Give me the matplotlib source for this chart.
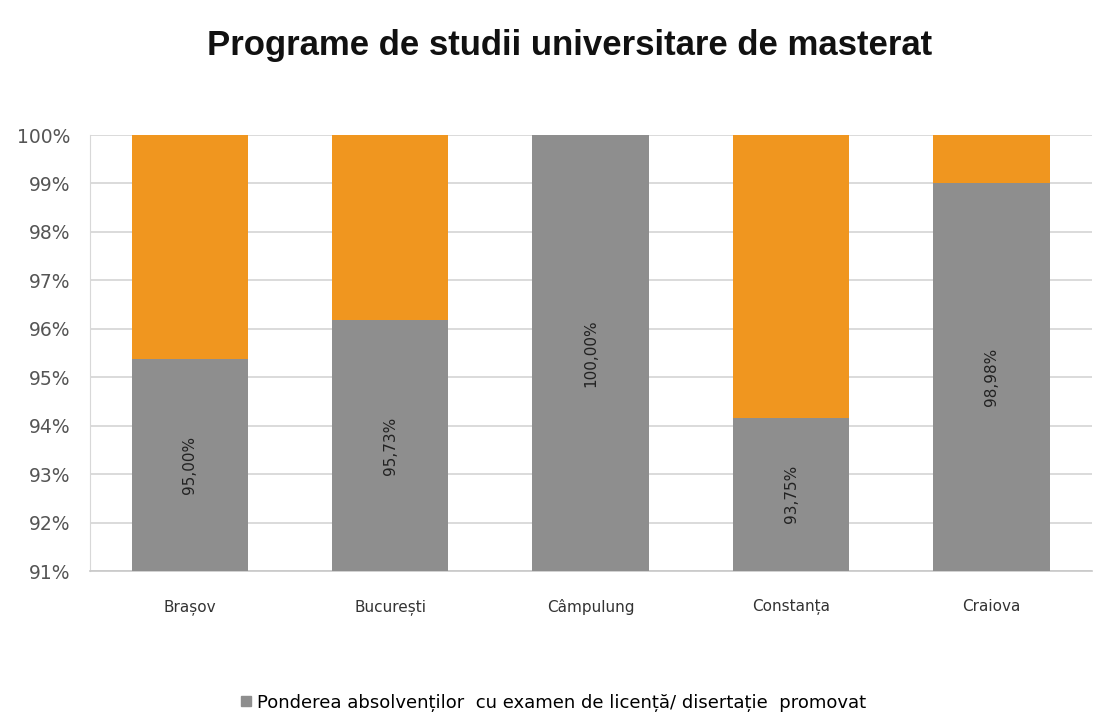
import matplotlib
matplotlib.use("Agg")
import matplotlib.pyplot as plt
from matplotlib.lines import Line2D

categories = ["Brașov", "București", "Câmpulung", "Constanța", "Craiova"]
gray_values = [95.37, 96.18, 100.0, 94.17, 99.01]
value_labels = ["95,00%", "95,73%", "100,00%", "93,75%", "98,98%"]
total = 100.0
yticks = [91, 92, 93, 94, 95, 96, 97, 98, 99, 100]
ytick_labels = [f"{v}%" for v in yticks]
title = "Programe de studii universitare de masterat"
legend_label = "Ponderea absolvenților  cu examen de licență/ disertație  promovat"

GRAY = "#8e8e8e"
ORANGE = "#f0961f"
BASE = 91

fig = plt.figure(figsize=(11.05, 7.22), dpi=100)
ax = fig.add_axes([0.081, 0.209, 0.907, 0.604])

x = list(range(len(categories)))
ax.bar(x, [g - BASE for g in gray_values], bottom=BASE, width=0.58, color=GRAY, zorder=3)
ax.bar(x, [total - g for g in gray_values], bottom=gray_values, width=0.58, color=ORANGE, zorder=3)

for xi, g, lab in zip(x, gray_values, value_labels):
    ax.text(xi, (BASE + g) / 2, lab, rotation=90, ha="center", va="center",
            fontsize=11, color="#222222", family="DejaVu Sans", zorder=4)

ax.set_xlim(-0.5, len(categories) - 0.5)
ax.set_ylim(BASE, 100)
ax.set_yticks(yticks)
ax.set_yticklabels(ytick_labels, fontsize=13.5, color="#555555", family="DejaVu Sans")
ax.set_xticks(x)
ax.set_xticklabels(categories, fontsize=11, color="#333333", family="DejaVu Sans")
ax.tick_params(axis="both", length=0)
ax.tick_params(axis="x", pad=20)
ax.tick_params(axis="y", pad=14)
ax.grid(axis="y", color="#d4d4d4", linewidth=1.2, zorder=0)
for s in ["top", "right"]:
    ax.spines[s].set_visible(False)
ax.spines["left"].set_color("#d8d8d8")
ax.spines["bottom"].set_color("#c8c8c8")
ax.spines["bottom"].set_linewidth(1.2)

fig.text(0.515, 0.937, title, ha="center", va="center", fontsize=25,
         fontweight="bold", family="Liberation Sans", color="#111111")

handle = Line2D([], [], marker="s", linestyle="none", color=GRAY, markersize=7)
fig.legend([handle], [legend_label], loc="center", bbox_to_anchor=(0.5, 0.027),
           frameon=False, fontsize=13, handletextpad=0.2, handlelength=0.8)

fig.savefig("out.png", dpi=100, facecolor="white")
